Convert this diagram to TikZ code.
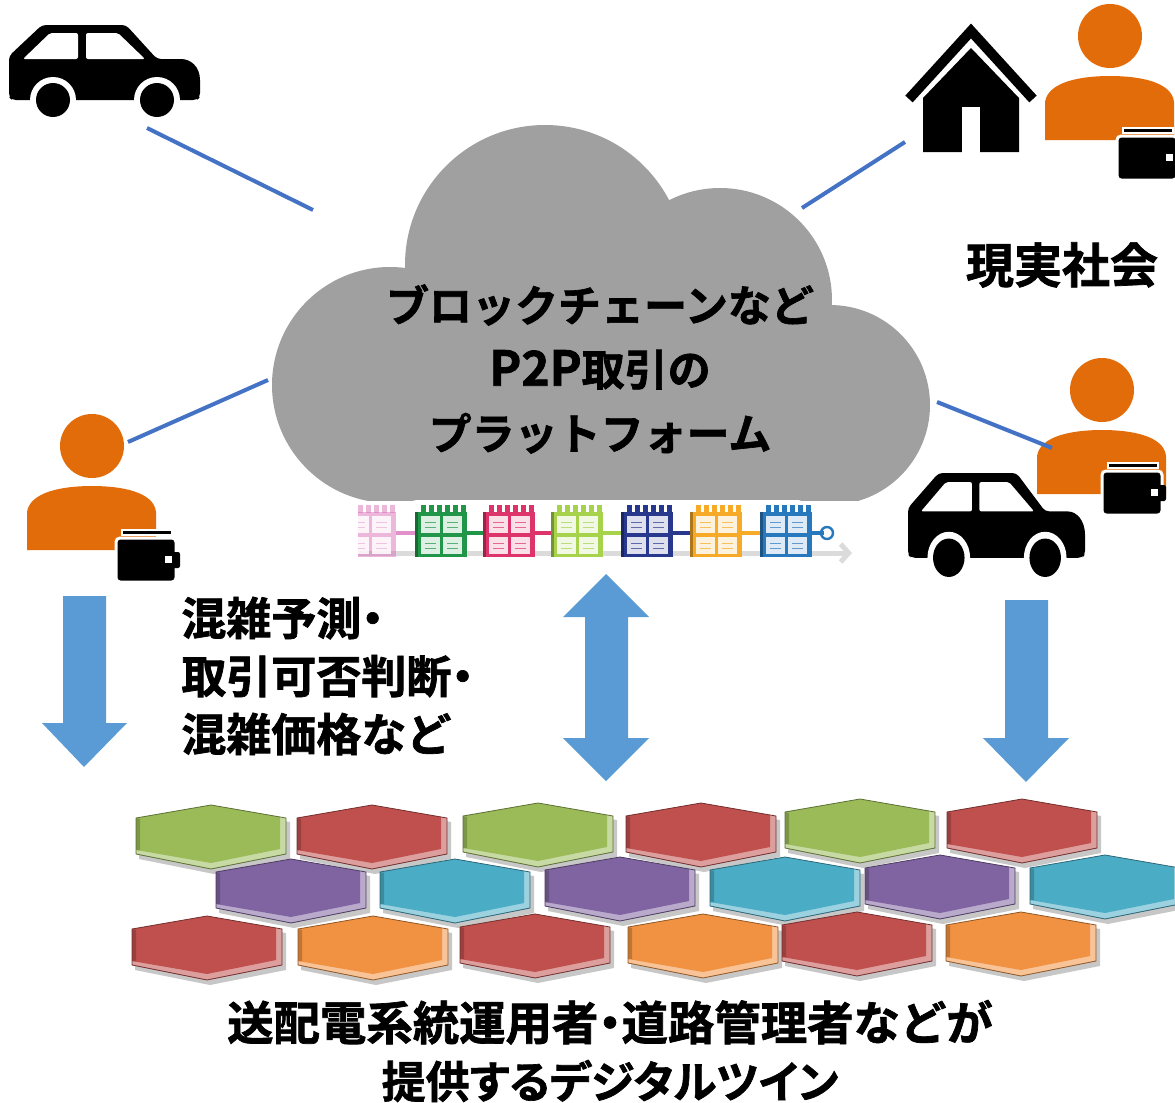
\documentclass[tikz,border=0pt]{standalone}
\usepackage{fontspec}
\newfontfamily\jpfont{Noto Sans CJK JP Bold}[FakeBold=1.5]
\newfontfamily\jpprop{Noto Sans CJK JP Bold}[FakeBold=1.5, RawFeature=+palt]
\usetikzlibrary{arrows.meta}

\definecolor{cloudgray}{RGB}{160,160,160}
\definecolor{linkblue}{RGB}{68,114,196}
\definecolor{arrowblue}{RGB}{91,155,213}
\definecolor{personorange}{RGB}{227,108,10}
\definecolor{hexgreen}{RGB}{155,187,89}
\definecolor{hexred}{RGB}{192,80,77}
\definecolor{hexpurple}{RGB}{128,100,162}
\definecolor{hexcyan}{RGB}{75,172,198}
\definecolor{hexorange}{RGB}{240,146,66}
\definecolor{blkpink}{RGB}{214,96,178}
\definecolor{blkgreen}{RGB}{34,150,72}
\definecolor{blkcrimson}{RGB}{222,52,108}
\definecolor{blklime}{RGB}{166,210,76}
\definecolor{blknavy}{RGB}{40,56,140}
\definecolor{blkorange}{RGB}{246,170,40}
\definecolor{blkblue}{RGB}{40,120,190}

\tikzset{
  link/.style={draw=linkblue, line width=2pt},
  bigarrow/.style={fill=arrowblue},
  chainlink/.style={draw=#1, line width=1.6pt},
  jptext/.style={text=black, inner sep=0pt},
}

% one bevelled hexagon tile: centre x, centre y, colour
\newcommand\hexcell[3]{%
  \begin{scope}[shift={(#1,#2)}]
    \fill[black, opacity=.22] (-72,-14) -- (3,-27) -- (79,-14) -- (79,23) -- (3,38) -- (-72,23) -- cycle;
    \fill[#3!55!white] (-75,-18) -- (0,-31) -- (75,-18) -- (75,18) -- (0,33) -- (-75,18) -- cycle;
    \fill[#3] (-75,-18) -- (0,-31) -- (69,-19) -- (69,13) -- (0,27) -- (-75,14) -- cycle;
    \fill[#3!80!black] (-75,-18) -- (-71,-17) -- (-71,14) -- (-75,14) -- cycle;
    \draw[#3!60!black, line width=.4pt] (-75,-18) -- (0,-31) -- (75,-18) -- (75,18) -- (0,33) -- (-75,18) -- cycle;
  \end{scope}}

% one block of the chain: left x, colour, name
\newcommand\chainblock[3]{%
  \begin{scope}[shift={(#1,0)}]
    \fill[#2] (0,512) rectangle (52,557);
    \fill[#2!70!black] (0,512) rectangle (3,557);
    \foreach \kk in {0,...,5} \fill[#2] (6+8*\kk,505) rectangle ++(5,8);
    \foreach \wx/\wy in {6/516, 28/516, 6/537, 28/537} {
      \fill[white, opacity=.85] (\wx,\wy) rectangle ++(19,17);
      \draw[#2!75!white, line width=.5pt] (\wx+4,\wy+6) -- ++(11,0) (\wx+4,\wy+11) -- ++(11,0);
    }
    \coordinate (#3-in) at (0,533);
    \coordinate (#3-out) at (52,533);
  \end{scope}}

% car pictogram: left x, roof y, x scale, y scale
\newcommand\caricon[4]{%
  \begin{scope}[shift={(#1,#2)}, xscale=#3, yscale=#4]
    \fill[black, rounded corners=2pt] (0,72) -- (0,31) -- (33,0) -- (117,0) -- (148,34) -- (168,34)
      {[sharp corners] .. controls (182,34) and (191,42) .. (191,55)} -- (191,72) -- (188,75) -- (3,75) -- cycle;
    \fill[white, rounded corners=1pt] (14,34) -- (41,8) -- (69,8) -- (69,34) -- cycle;
    \fill[white, rounded corners=1pt] (77,8) -- (109,8) -- (136,34) -- (77,34) -- cycle;
    \fill[white] (44,75) circle[radius=11.5pt] (148,75) circle[radius=11.5pt];
    \fill[black] (44,75) circle[radius=8.5pt] (148,75) circle[radius=8.5pt];
  \end{scope}}

% person pictogram, placed by the centre of the head
\newcommand\personicon[2]{%
  \begin{scope}[shift={(#1,#2)}]
    \fill[personorange] (0,0) circle[radius=16pt];
    \fill[personorange] (-65,104) -- (-65,66) .. controls (-62,46) and (-30,40) .. (0,40)
      .. controls (30,40) and (62,46) .. (64,66) -- (64,104) -- cycle;
  \end{scope}}

% wallet pictogram, placed by the top left corner of its body
\newcommand\walleticon[2]{%
  \begin{scope}[shift={(#1,#2)}]
    \filldraw[draw=white, line width=1.5pt, fill=black, rounded corners=2pt] (0,0) rectangle (60,44);
    \filldraw[draw=white, line width=1pt, fill=black] (6,-8) rectangle (56,-3);
    \fill[black, rounded corners=1pt] (56,14) rectangle (64,30);
    \fill[white] (49,18) rectangle (56,25);
  \end{scope}}

\begin{document}
\begin{tikzpicture}[x=0.5pt, y=-0.5pt]
\useasboundingbox (0,0) rectangle (1175,1103);
\clip (0,0) rectangle (1175,1103);

% ---- cloud ----
\begin{scope}
  \clip (0,0) rectangle (1175,500);
  \fill[cloudgray] (545,265) circle[radius=70pt] (720,300) circle[radius=56pt]
    (830,405) circle[radius=50pt] (390,385) circle[radius=59pt];
  \fill[cloudgray] (380,330) rectangle (835,500);
\end{scope}
\node[jptext, align=center, font=\jpfont\fontsize{21.5pt}{32pt}\selectfont] (platform) at (600,369)
  {ブロックチェーンなど\\{\fontsize{24pt}{32pt}\selectfont P2P}取引の\\プラットフォーム};

% connector ends on the cloud
\coordinate (cloudNW) at (313,210);
\coordinate (cloudW)  at (268,380);
\coordinate (cloudNE) at (802,208);
\coordinate (cloudE)  at (937,402);

% ---- chain of blocks under the cloud ----
\draw[gray!28, line width=2.5pt, -{Straight Barb[length=4pt,width=9pt]}] (358,553) -- (852,553);
\begin{scope}[opacity=.45]
  \begin{scope}
    \clip (358,500) rectangle (400,560);
    \chainblock{344}{blkpink}{blkA}
  \end{scope}
\end{scope}
\chainblock{415}{blkgreen}{blkB}
\chainblock{483}{blkcrimson}{blkC}
\chainblock{551}{blklime}{blkD}
\chainblock{621}{blknavy}{blkE}
\chainblock{690}{blkorange}{blkF}
\chainblock{760}{blkblue}{blkG}
\draw[chainlink=blkpink!70!white] (blkA-out) -- (blkB-in);
\draw[chainlink=blkgreen] (blkB-out) -- (blkC-in);
\draw[chainlink=blkcrimson] (blkC-out) -- (blkD-in);
\draw[chainlink=blklime] (blkD-out) -- (blkE-in);
\draw[chainlink=blknavy] (blkE-out) -- (blkF-in);
\draw[chainlink=blkorange] (blkF-out) -- (blkG-in);
\coordinate (chainend) at (824,533);
\draw[chainlink=blkblue] (blkG-out) -- (chainend);
\draw[blkblue, line width=1.2pt] (chainend) ++(3,0) circle[radius=3pt];

% ---- icons ----
\caricon{9}{25}{1}{1}
\coordinate (carA) at (147,128);

\draw[black, line width=5pt, line join=miter, miter limit=10] (909,99) -- (971,31) -- (1033,99);
\fill[black] (923,152) -- (923,98) -- (971,48) -- (1019,98) -- (1019,152) -- cycle;
\fill[white] (962,107) rectangle (980,153);
\coordinate (house) at (905,142);

\personicon{1110}{36}
\walleticon{1117}{136}

\personicon{92}{446}
\walleticon{116}{538}
\coordinate (personL) at (128,442);

\personicon{1102}{390}
\walleticon{1102}{471}
\coordinate (personR) at (1052,448);

\caricon{908}{473}{0.927}{1.13}

\node[jptext, font=\jpfont\fontsize{24pt}{28pt}\selectfont] (society) at (1062,265) {現実社会};

% ---- links between the participants and the platform ----
\draw[link] (carA) -- (cloudNW);
\draw[link] (personL) -- (cloudW);
\draw[link] (cloudNE) -- (house);
\draw[link] (cloudE) -- (personR);

% ---- block arrows ----
\fill[bigarrow] (63,596) -- (106,596) -- (106,723) -- (127,723) -- (84,767) -- (42,723) -- (63,723) -- cycle;
\fill[bigarrow] (606,574) -- (649,617) -- (628,617) -- (628,738) -- (649,738) -- (606,781)
  -- (563,738) -- (585,738) -- (585,617) -- (563,617) -- cycle;
\fill[bigarrow] (1005,600) -- (1048,600) -- (1048,738) -- (1069,738) -- (1026,782) -- (983,738) -- (1005,738) -- cycle;

\node[jptext, anchor=west, align=left, font=\jpprop\fontsize{22.5pt}{29pt}\selectfont] (forecast) at (181,676)
  {{\jpfont 混雑予測}・\\{\jpfont 取引可否判断}・\\{\jpfont 混雑価格など}};

% ---- digital twin tiles ----
\hexcell{211}{836}{hexgreen}
\hexcell{372}{836}{hexred}
\hexcell{538}{834}{hexgreen}
\hexcell{701}{834}{hexred}
\hexcell{860}{830}{hexgreen}
\hexcell{1022}{830}{hexred}

\hexcell{291}{890}{hexpurple}
\hexcell{455}{890}{hexcyan}
\hexcell{620}{888}{hexpurple}
\hexcell{785}{888}{hexcyan}
\hexcell{940}{886}{hexpurple}
\hexcell{1105}{886}{hexcyan}

\hexcell{207}{947}{hexred}
\hexcell{373}{947}{hexorange}
\hexcell{535}{945}{hexred}
\hexcell{703}{945}{hexorange}
\hexcell{857}{943}{hexred}
\hexcell{1021}{943}{hexorange}

\node[jptext, align=center, font=\jpfont\fontsize{23.2pt}{29pt}\selectfont] (twin) at (610,1051)
  {送配電系統運用者{\jpprop ・}道路管理者などが\\{\jpprop\fontsize{22pt}{29pt}\selectfont 提供するデジタルツイン}};
\end{tikzpicture}
\end{document}
